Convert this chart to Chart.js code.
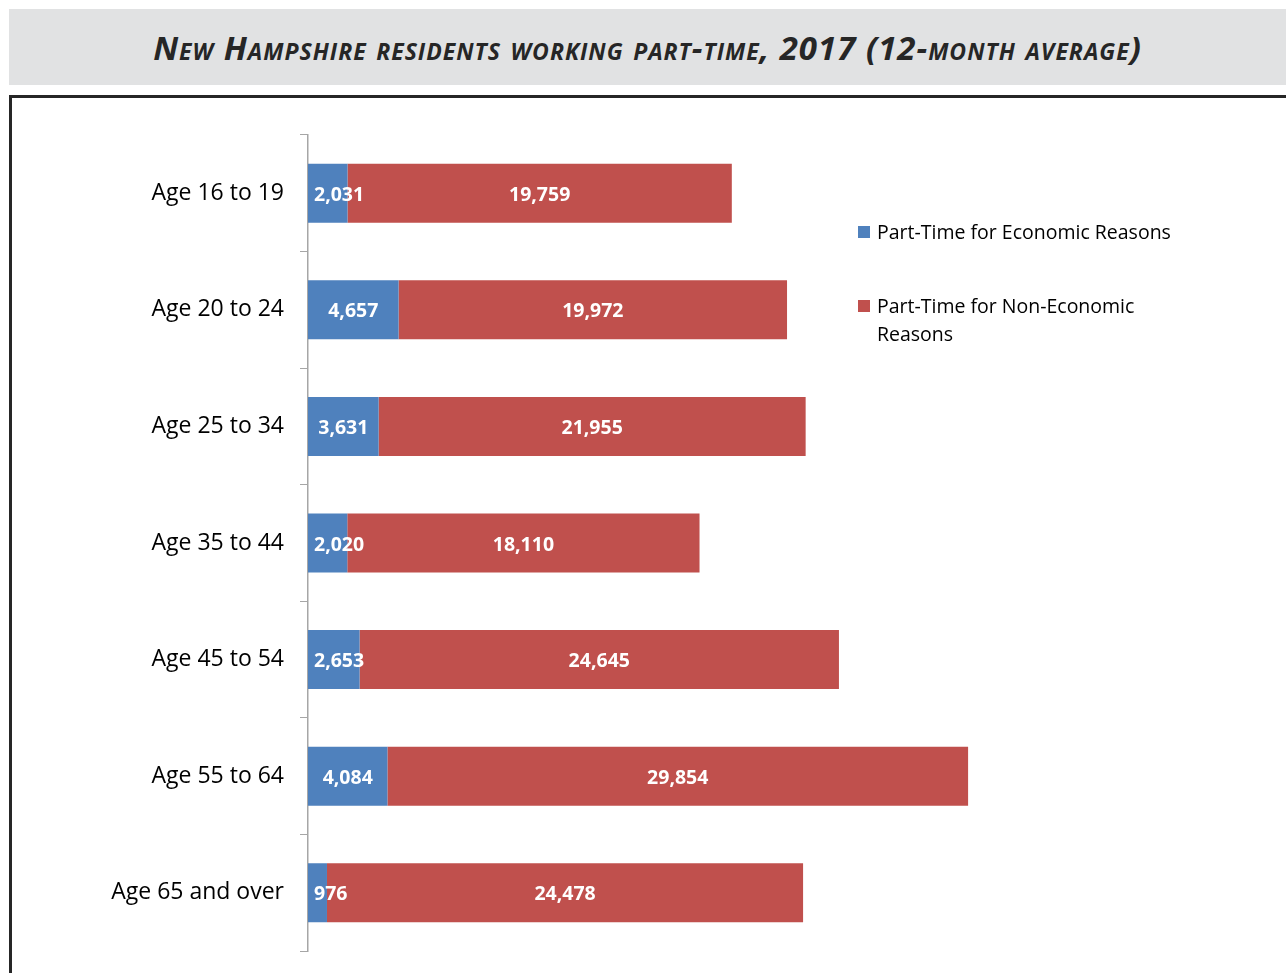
<!DOCTYPE html>
<html>
<head>
<meta charset="utf-8">
<script src="https://cdn.jsdelivr.net/npm/chart.js@4/dist/chart.umd.min.js"></script>
<style>
    body { margin: 0; background: #fff; width: 1286px; height: 973px; overflow: hidden; position: relative; }
    #titulo {
        position: absolute; left: 9px; top: 9px; width: 1277px; height: 76px;
        background: #e1e2e3; color: #262626;
        font-family: "Open Sans", sans-serif; font-weight: bold; font-style: italic;
        font-variant: small-caps; font-size: 33px; line-height: 78px; text-align: center;
        letter-spacing: 1px;
    }
    #caixa {
        position: absolute; left: 9px; top: 95px; width: 1290px; height: 900px;
        border-left: 3px solid #262626; border-top: 3px solid #262626;
    }
    #grafico { position: absolute; left: 12px; top: 98px; }
</style>
</head>
<body>
<div id="titulo">New Hampshire residents working part-time, 2017 (12-month average)</div>
<div id="caixa"></div>
<canvas id="grafico" width="1274" height="900"></canvas>
<script>
// Dados do gráfico
const faixas = ['Age 16 to 19', 'Age 20 to 24', 'Age 25 to 34', 'Age 35 to 44', 'Age 45 to 54', 'Age 55 to 64', 'Age 65 and over'];
const economicos = [2031, 4657, 3631, 2020, 2653, 4084, 976];
const naoEconomicos = [19759, 19972, 21955, 18110, 24645, 29854, 24478];
const nomesSeries = ['Part-Time for Economic Reasons', 'Part-Time for Non-Economic Reasons'];
const coresSeries = ['#4f81bd', '#c0504d'];

const fonte = '"Open Sans", sans-serif';

// Rótulos brancos dentro das barras
const rotulosBarras = {
    id: 'rotulosBarras',
    afterDatasetsDraw(chart) {
        const ctx = chart.ctx;
        ctx.save();
        ctx.font = 'bold 19.5px ' + fonte;
        ctx.fillStyle = '#ffffff';
        ctx.textBaseline = 'middle';
        ctx.textAlign = 'center';
        chart.data.datasets.forEach((ds, i) => {
            chart.getDatasetMeta(i).data.forEach((bar, j) => {
                const texto = ds.data[j].toLocaleString('en-US');
                const w = ctx.measureText(texto).width;
                let cx = (bar.x + bar.base) / 2;
                const minimo = bar.base + w / 2 + 6;
                if (i === 0 && cx < minimo) cx = minimo;
                ctx.fillText(texto, cx, bar.y + 2);
            });
        });
        ctx.restore();
    }
};

// Legenda desenhada à direita, dentro da área
const legendaLateral = {
    id: 'legendaLateral',
    afterDraw(chart) {
        const ctx = chart.ctx;
        ctx.save();
        ctx.font = '19.5px ' + fonte;
        ctx.textBaseline = 'middle';
        const posicoes = [134, 208];
        chart.data.datasets.forEach((ds, i) => {
            const x = 846, y = posicoes[i];
            ctx.fillStyle = ds.backgroundColor;
            ctx.fillRect(x, y - 6, 12, 12);
            ctx.fillStyle = '#000';
            // quebra o texto se for largo demais
            const palavras = ds.label.split(' ');
            let linha = '', linhas = [];
            palavras.forEach(p => {
                const teste = linha ? linha + ' ' + p : p;
                if (ctx.measureText(teste).width > 310 && linha) { linhas.push(linha); linha = p; }
                else linha = teste;
            });
            linhas.push(linha);
            linhas.forEach((l, k) => ctx.fillText(l, x + 19, y + 1 + k * 28));
        });
        ctx.restore();
    }
};

new Chart(document.getElementById('grafico'), {
    type: 'bar',
    data: {
        labels: faixas,
        datasets: [
            { label: nomesSeries[0], data: economicos, backgroundColor: coresSeries[0] },
            { label: nomesSeries[1], data: naoEconomicos, backgroundColor: coresSeries[1] }
        ]
    },
    options: {
        indexAxis: 'y',
        responsive: false,
        animation: false,
        layout: { padding: { left: 0, top: 37, right: 5.5, bottom: 47 } },
        datasets: { bar: { categoryPercentage: 1, barPercentage: 0.506 } },
        plugins: { legend: { display: false }, tooltip: { enabled: false } },
        scales: {
            x: { stacked: true, display: false, min: 0, max: 50000 },
            y: {
                stacked: true,
                afterFit(scale) { scale.width = 296; },
                grid: { drawOnChartArea: false, tickLength: 8, color: '#a6a6a6', offset: true },
                border: { display: true, color: '#a6a6a6', width: 1.5 },
                ticks: { color: '#000', padding: 16, font: { family: fonte, size: 23 } }
            }
        }
    },
    plugins: [rotulosBarras, legendaLateral]
});
</script>
</body>
</html>
